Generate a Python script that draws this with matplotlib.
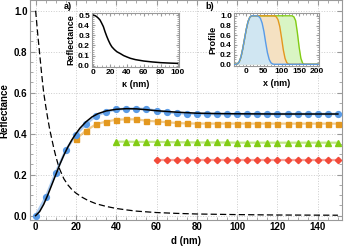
import numpy as np
import matplotlib
matplotlib.use("Agg")
import matplotlib.pyplot as plt
from matplotlib.ticker import MultipleLocator, FormatStrFormatter

plt.rcParams['font.family'] = ['Liberation Sans', 'DejaVu Sans']
plt.rcParams['font.weight'] = 'bold'

# ---- main panel data ----
d_blue = np.arange(0, 151, 5)
r_blue = [0.0, 0.09, 0.21, 0.32, 0.395, 0.447, 0.487, 0.507, 0.518, 0.522,
          0.522, 0.52, 0.512, 0.505, 0.501, 0.498, 0.497, 0.496, 0.496, 0.496,
          0.496, 0.496, 0.496, 0.496, 0.496, 0.496, 0.496, 0.496, 0.496, 0.496, 0.496]

d_orange = np.arange(20, 151, 5)
r_orange = [0.373, 0.415, 0.446, 0.459, 0.468, 0.47, 0.47, 0.463, 0.46, 0.456,
            0.452, 0.45, 0.449, 0.449, 0.449, 0.449, 0.449, 0.449, 0.449, 0.449,
            0.449, 0.449, 0.449, 0.449, 0.449, 0.449, 0.449]

d_green = np.arange(40, 151, 5)
r_green = [0.361, 0.361, 0.36, 0.36, 0.36, 0.359, 0.358, 0.358, 0.357, 0.357,
           0.357, 0.357, 0.356, 0.356, 0.356, 0.356, 0.356, 0.356, 0.356, 0.356,
           0.356, 0.356, 0.356]

d_red = np.arange(60, 151, 5)
r_red = [0.27] * len(d_red)

d_theory = [0, 2, 4, 6, 8, 10, 12, 14, 16, 18, 20, 22, 25, 28, 31, 35, 40, 45,
            50, 55, 60, 70, 80, 90, 100, 120, 150]
r_theory = [0.0, 0.02, 0.055, 0.10, 0.15, 0.20, 0.25, 0.295, 0.335, 0.37, 0.40,
            0.427, 0.458, 0.482, 0.498, 0.511, 0.519, 0.522, 0.521, 0.517, 0.512,
            0.505, 0.5, 0.498, 0.497, 0.496, 0.496]

d_bare = [0, 1, 2, 3, 4, 5, 6, 7, 8, 9, 10, 11, 12, 14, 16, 18, 20, 23, 26, 30,
          35, 40, 45, 50, 60, 70, 80, 100, 120, 150]
r_bare = [1.0, 0.89, 0.79, 0.69, 0.6, 0.535, 0.475, 0.42, 0.375, 0.33, 0.29, 0.255,
          0.225, 0.18, 0.15, 0.127, 0.11, 0.09, 0.074, 0.058, 0.045, 0.035,
          0.028, 0.022, 0.015, 0.011, 0.008, 0.005, 0.003, 0.002]

# ---- inset a data ----
kappa = [0, 2, 4, 6, 8, 10, 12, 14, 16, 18, 20, 22, 25, 28, 32, 36, 40, 44, 50,
         60, 70, 80, 90, 100]
r_kappa = [0.5, 0.495, 0.485, 0.47, 0.452, 0.42, 0.386, 0.335, 0.29, 0.25, 0.215,
           0.187, 0.16, 0.138, 0.12, 0.1, 0.086, 0.073, 0.06, 0.046, 0.037, 0.03,
           0.026, 0.023]

# ---- inset b data ----
x_prof = [-45, -30, -25, -20, -15, -10, -5, 0, 5, 10, 15, 30, 35, 40, 45, 50, 55,
          60, 65, 70, 75, 80, 85, 90, 95, 100, 105, 110, 115, 120, 125, 130, 135,
          140, 145, 150, 155, 160, 165, 210]
p_blue = [0, 0, 0.01, 0.05, 0.15, 0.32, 0.52, 0.72, 0.88, 0.97, 1.0, 1.0, 0.99, 0.95,
          0.85, 0.68, 0.45, 0.24, 0.1, 0.03, 0.005, 0, 0, 0, 0, 0, 0, 0, 0, 0, 0, 0,
          0, 0, 0, 0, 0, 0, 0, 0]
p_orange = [0, 0, 0.01, 0.05, 0.15, 0.32, 0.52, 0.72, 0.88, 0.97, 1.0, 1.0, 1.0, 1.0,
            1.0, 1.0, 1.0, 1.0, 1.0, 1.0, 1.0, 1.0, 0.98, 0.92, 0.78, 0.55, 0.3,
            0.12, 0.03, 0.005, 0, 0, 0, 0, 0, 0, 0, 0, 0, 0]
p_green = [0, 0, 0.01, 0.05, 0.15, 0.32, 0.52, 0.72, 0.88, 0.97, 1.0, 1.0, 1.0, 1.0,
           1.0, 1.0, 1.0, 1.0, 1.0, 1.0, 1.0, 1.0, 1.0, 1.0, 1.0, 1.0, 1.0, 1.0,
           1.0, 1.0, 1.0, 1.0, 0.98, 0.9, 0.65, 0.35, 0.12, 0.02, 0, 0]

blue, orange, green, red = '#5a9be6', '#e3981f', '#82cc14', '#f24a3a'
frame_col = '#999999'


def style_axes(a, fs):
    a.tick_params(which='both', direction='in', top=True, right=True, color=frame_col,
                  labelsize=fs, pad=1.5)
    for s in a.spines.values():
        s.set_color(frame_col)


fig = plt.figure(figsize=(3.44, 2.48), dpi=100)
ax = fig.add_axes([0.086, 0.114, 0.908, 0.884])

ax.grid(True, which='major', color='#cccccc', linestyle=':', linewidth=0.7)
ax.plot(d_bare, r_bare, color='black', linestyle=(0, (5, 2.5)), linewidth=0.9, zorder=2)

ax.plot(d_red, r_red, color=red, alpha=0.5, linewidth=1.6, zorder=3)
ax.plot(d_red, r_red, linestyle='none', marker='D', ms=3.2, color=red, zorder=4)
ax.plot(d_green, r_green, color=green, alpha=0.5, linewidth=1.6, zorder=3)
ax.plot(d_green, r_green, linestyle='none', marker='^', ms=4.0, color=green, zorder=4)
ax.plot(d_orange, r_orange, color=orange, alpha=0.5, linewidth=1.6, zorder=3)
ax.plot(d_orange, r_orange, linestyle='none', marker='s', ms=3.6, color=orange, zorder=4)
ax.plot(d_blue, r_blue, color=blue, alpha=0.5, linewidth=1.8, zorder=3)
ax.plot(d_blue, r_blue, linestyle='none', marker='o', ms=4.2, color=blue, zorder=4)
ax.plot(d_theory, r_theory, color='black', linewidth=1.1, zorder=5)

ax.set_xlim(-3, 152)
ax.set_ylim(-0.02, 1.05)
ax.xaxis.set_major_locator(MultipleLocator(20))
ax.xaxis.set_minor_locator(MultipleLocator(5))
ax.yaxis.set_major_locator(MultipleLocator(0.2))
ax.yaxis.set_minor_locator(MultipleLocator(0.05))
ax.yaxis.set_major_formatter(FormatStrFormatter('%.1f'))
style_axes(ax, 7)
ax.tick_params(which='major', length=3.5)
ax.tick_params(which='minor', length=2)
ax.set_xlabel('d (nm)', fontsize=7, fontweight='bold', labelpad=3)
ax.set_ylabel('Reflectance', fontsize=7, fontweight='bold', labelpad=3)

# ---- inset a ----
axa = fig.add_axes([0.2674, 0.731, 0.2515, 0.215])
axa.plot(kappa, r_kappa, color='black', linewidth=1.1)
axa.set_xlim(-1.5, 101)
axa.set_ylim(-0.01, 0.517)
axa.xaxis.set_major_locator(MultipleLocator(20))
axa.xaxis.set_minor_locator(MultipleLocator(5))
axa.yaxis.set_major_locator(MultipleLocator(0.1))
axa.yaxis.set_minor_locator(MultipleLocator(0.02))
axa.yaxis.set_major_formatter(FormatStrFormatter('%.1f'))
style_axes(axa, 6)
axa.tick_params(which='major', length=2.5)
axa.tick_params(which='minor', length=1.3)
axa.set_xlabel('κ (nm)', fontsize=6.5, fontweight='bold', labelpad=3)
axa.set_ylabel('Reflectance', fontsize=6.5, fontweight='bold', labelpad=2)

# ---- inset b ----
axb = fig.add_axes([0.680, 0.735, 0.246, 0.211])
axb.fill_between(x_prof, p_green, 0, color='#d9f5c4', linewidth=0, zorder=1)
axb.fill_between(x_prof, p_orange, 0, color='#f5e1c2', linewidth=0, zorder=2)
axb.fill_between(x_prof, p_blue, 0, color='#d0e6f2', linewidth=0, zorder=3)
axb.plot(x_prof, p_green, color=green, linewidth=1.0, zorder=4)
axb.plot(x_prof, p_orange, color=orange, linewidth=1.0, zorder=5)
axb.plot(x_prof, p_blue, color=blue, linewidth=1.0, zorder=6)
axb.set_xlim(-35, 205)
axb.set_ylim(-0.03, 1.05)
axb.xaxis.set_major_locator(MultipleLocator(50))
axb.xaxis.set_minor_locator(MultipleLocator(10))
axb.yaxis.set_major_locator(MultipleLocator(0.2))
axb.yaxis.set_minor_locator(MultipleLocator(0.05))
axb.yaxis.set_major_formatter(FormatStrFormatter('%.1f'))
style_axes(axb, 6)
axb.tick_params(which='major', length=2.5)
axb.tick_params(which='minor', length=1.3)
axb.set_xlabel('x (nm)', fontsize=6.5, fontweight='bold', labelpad=3)
axb.set_ylabel('Profile', fontsize=6.5, fontweight='bold', labelpad=2)

fig.text(0.198, 0.972, 'a)', fontsize=6.5, fontweight='bold', ha='center', va='center')
fig.text(0.610, 0.972, 'b)', fontsize=6.5, fontweight='bold', ha='center', va='center')

fig.savefig('out.png', dpi=100)
